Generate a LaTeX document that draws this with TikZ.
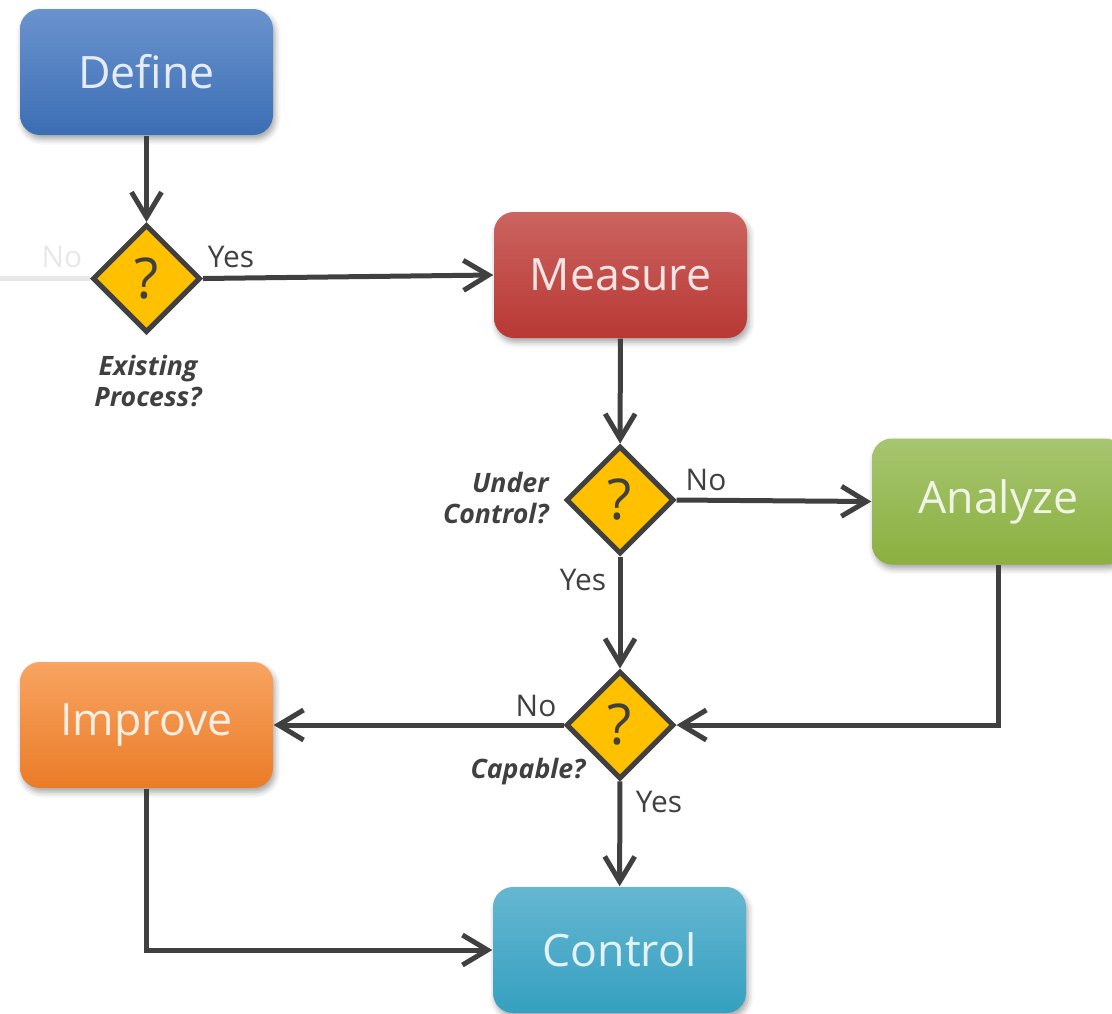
\documentclass[tikz,border=0pt]{standalone}
\usepackage{fontspec}
\setmainfont{Open Sans}
\usetikzlibrary{shapes.geometric,arrows.meta,shadows.blur}
\definecolor{linegray}{RGB}{64,64,64}
\definecolor{fadegray}{RGB}{232,232,232}
\definecolor{askyellow}{RGB}{255,192,0}
\definecolor{defTop}{RGB}{106,147,206}
\definecolor{defBot}{RGB}{60,110,180}
\definecolor{msTop}{RGB}{203,100,96}
\definecolor{msBot}{RGB}{184,56,52}
\definecolor{anTop}{RGB}{167,197,112}
\definecolor{anBot}{RGB}{139,176,64}
\definecolor{imTop}{RGB}{248,164,98}
\definecolor{imBot}{RGB}{234,124,40}
\definecolor{ctTop}{RGB}{101,183,209}
\definecolor{ctBot}{RGB}{53,160,192}
\tikzset{
	phase/.style={rectangle, rounded corners=0.2cm, minimum width=2.53cm, minimum height=1.26cm,
		font=\fontsize{12.7}{15}\selectfont, text=white, text opacity=0.85,
		blur shadow={shadow xshift=0.6pt, shadow yshift=-1.2pt, shadow blur radius=1.6pt, shadow opacity=35}},
	test/.style={diamond, draw=linegray, line width=0.05cm, fill=askyellow, minimum width=1.08cm,
		minimum height=1.08cm, inner sep=0pt, font=\fontsize{16}{18}\selectfont, text=linegray},
	flow/.style={draw=linegray, line width=0.05cm, -{Straight Barb[length=2.5mm, width=3mm]}},
	lbl/.style={font=\fontsize{8.5}{10}\selectfont, text=linegray},
	ask/.style={font=\fontsize{7.6}{9}\selectfont\bfseries\itshape, text=linegray, align=center}
}
\begin{document}
\begin{tikzpicture}
	\clip (0,0) rectangle (11.12,-10.13);
	\node [phase, top color=defTop, bottom color=defBot] (df) at (1.465,-0.72) {Define};
	\node [phase, top color=msTop, bottom color=msBot] (ms) at (6.205,-2.75) {Measure};
	\node [phase, top color=anTop, bottom color=anBot] (an) at (9.985,-5.015) {Analyze};
	\node [phase, top color=imTop, bottom color=imBot] (im) at (1.465,-7.25) {Improve};
	\node [phase, top color=ctTop, bottom color=ctBot] (ct) at (6.195,-9.5) {Control};
	\node [test] (d1) at (1.465,-2.785) {?};
	\node [test] (d2) at (6.2,-5.0) {?};
	\node [test] (d3) at (6.2,-7.25) {?};
	\coordinate (nofree) at (0,-2.785);
	\draw [draw=fadegray, line width=0.05cm] (nofree) -- (d1.west);
	\draw [flow] (df) -- (d1);
	\draw [flow] (d1.east) -- (ms.west);
	\draw [flow] (ms) -- (d2);
	\draw [flow] (d2.east) -- (an.west);
	\draw [flow] (d2) -- (d3);
	\draw [flow] (an.south) |- (d3.east);
	\draw [flow] (d3.west) -- (im.east);
	\draw [flow] (d3) -- (ct);
	\draw [flow] (im.south) |- (ct.west);
	\node [lbl, text=fadegray] (n1) at (0.62,-2.57) {No};
	\node [lbl] (y1) at (2.31,-2.57) {Yes};
	\node [ask] (q1) at (1.48,-3.81) {Existing\\Process?};
	\node [lbl] (n2) at (7.06,-4.8) {No};
	\node [ask, anchor=east, align=right] (q2) at (5.61,-4.98) {Under\\Control?};
	\node [lbl] (y2) at (5.83,-5.8) {Yes};
	\node [lbl] (n3) at (5.36,-7.06) {No};
	\node [ask] (q3) at (5.28,-7.72) {Capable?};
	\node [lbl] (y3) at (6.59,-8.02) {Yes};
\end{tikzpicture}
\end{document}
